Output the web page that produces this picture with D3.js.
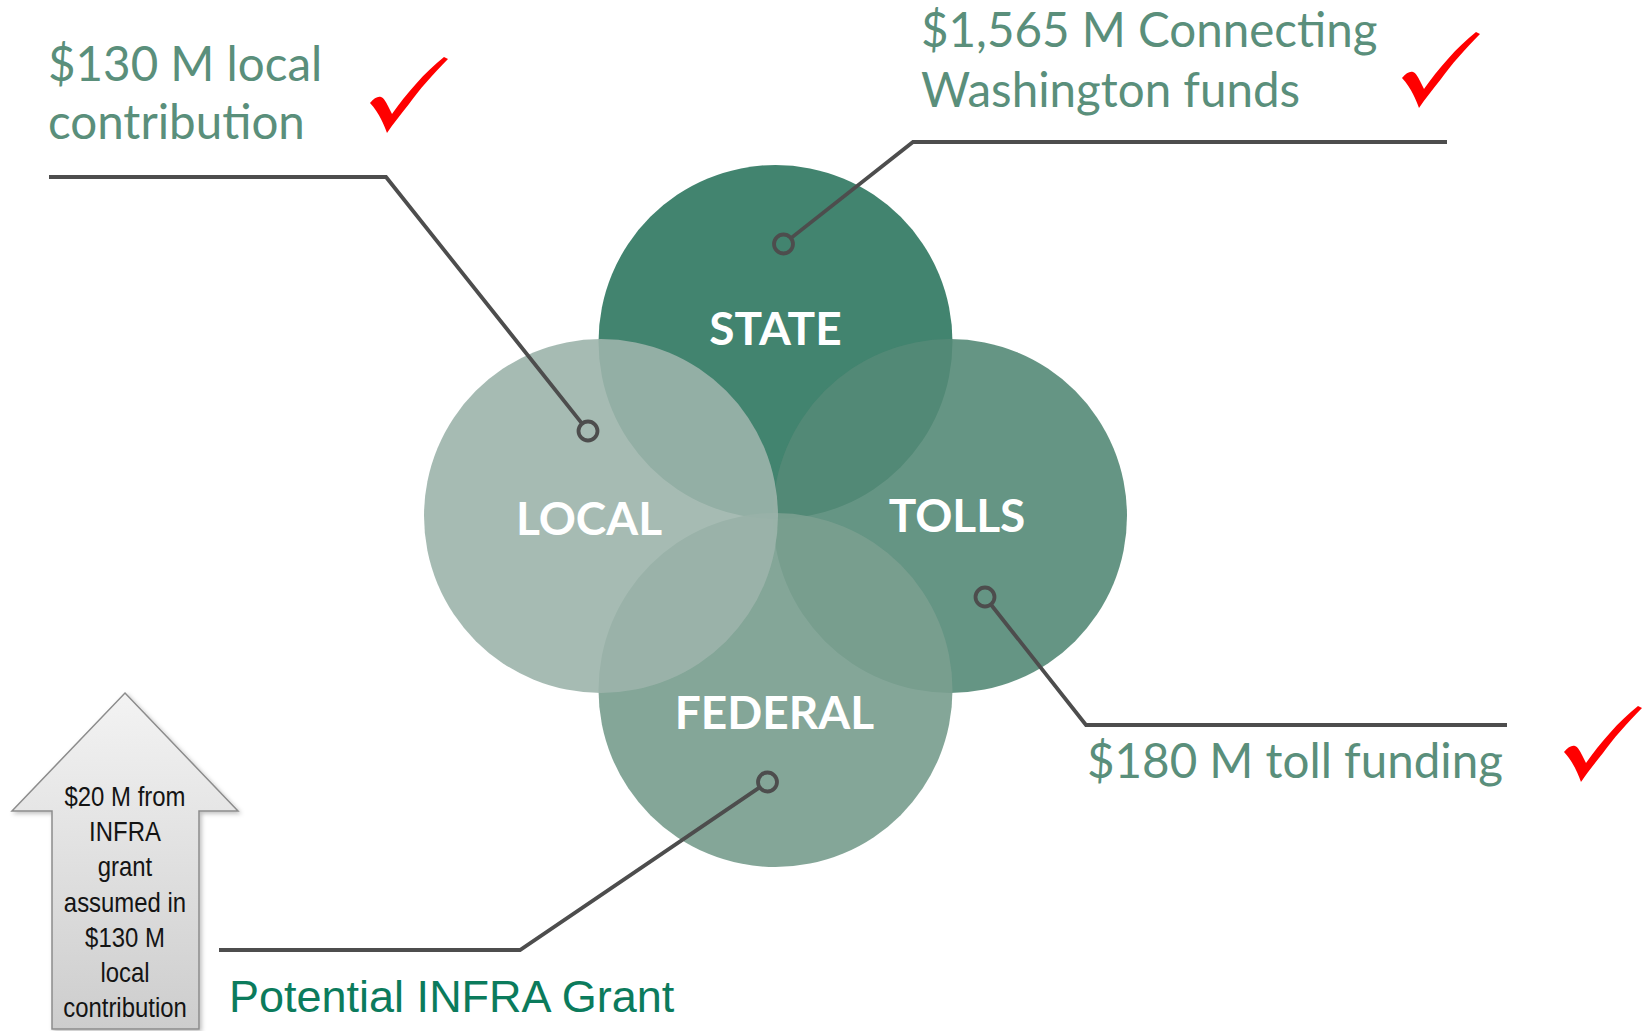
<!DOCTYPE html>
<html>
<head>
<meta charset="utf-8">
<script src="https://cdn.jsdelivr.net/npm/d3@7"></script>
<style>
  html, body { margin: 0; padding: 0; background: #ffffff; }
  svg { display: block; }
</style>
</head>
<body>
<svg id="chart" width="1649" height="1031"></svg>
<script>
// ---- data ----
const categories = ["STATE", "TOLLS", "FEDERAL", "LOCAL"];
const amountLines = [
  ["$1,565 M Connecting", "Washington funds"],
  ["$180 M toll funding"],
  ["Potential INFRA Grant"],
  ["$130 M local", "contribution"]
];
const secured = [true, true, false, true];
const noteLines = ["$20 M from", "INFRA", "grant", "assumed in", "$130 M", "local", "contribution"];

// ---- layout (not data) ----
const W = 1649, H = 1031;
const svg = d3.select("#chart");
const x = d3.scaleLinear().domain([-1, 1]).range([601, 950]);
const y = d3.scaleLinear().domain([-1, 1]).range([690, 342]);
const R = 177;
const layout = {
  STATE:   { u: 0,  v: 1,  fill: "rgb(66,132,111)",  op: 1.0,  lx: 0,   ly: 3,
             mk: [8, -98],  elbow: [913, 142], end: [1447, 142] },
  TOLLS:   { u: 1,  v: 0,  fill: "rgb(84,138,119)",  op: 0.9,  lx: 7,   ly: 16,
             mk: [35, 81],  elbow: [1086, 725], end: [1507, 725] },
  FEDERAL: { u: 0,  v: -1, fill: "rgb(122,158,143)", op: 0.92, lx: -1,  ly: 39,
             mk: [-8, 92],  elbow: [520, 950], end: [219, 950] },
  LOCAL:   { u: -1, v: 0,  fill: "rgb(156,180,171)", op: 0.9,  lx: -12, ly: 19,
             mk: [-13, -85], elbow: [386, 177], end: [49, 177] }
};

const defs = svg.append("defs");
const grad = defs.append("linearGradient").attr("id", "arrowGrad")
  .attr("x1", 0).attr("y1", 0).attr("x2", 0).attr("y2", 1);
grad.append("stop").attr("offset", "0%").attr("stop-color", "#f3f3f3");
grad.append("stop").attr("offset", "100%").attr("stop-color", "#cdcdcd");
const sh = defs.append("filter").attr("id", "shadow").attr("x", "-20%").attr("y", "-20%")
  .attr("width", "140%").attr("height", "140%");
sh.append("feDropShadow").attr("dx", 2).attr("dy", 2).attr("stdDeviation", 2)
  .attr("flood-color", "#000").attr("flood-opacity", 0.25);

// ---- circles ----
const gC = svg.append("g");
gC.selectAll("circle.set").data(categories).join("circle")
  .attr("class", "set")
  .attr("cx", d => x(layout[d].u))
  .attr("cy", d => y(layout[d].v))
  .attr("r", R)
  .attr("fill", d => layout[d].fill)
  .attr("fill-opacity", d => layout[d].op);

// labels
gC.selectAll("text.set").data(categories).join("text")
  .attr("class", "set")
  .attr("x", d => x(layout[d].u) + layout[d].lx)
  .attr("y", d => y(layout[d].v) + layout[d].ly)
  .attr("text-anchor", "middle")
  .attr("font-family", "Lato, 'Open Sans', sans-serif")
  .attr("font-weight", 700)
  .attr("font-size", 46)
  .attr("fill", "#ffffff")
  .text(d => d);

// ---- leader lines ----
const mR = 9.5;
const gL = svg.append("g");
categories.forEach(d => {
  const L = layout[d];
  const mx = x(L.u) + L.mk[0], my = y(L.v) + L.mk[1];
  const ang = Math.atan2(L.elbow[1] - my, L.elbow[0] - mx);
  const sx = mx + Math.cos(ang) * mR, sy = my + Math.sin(ang) * mR;
  gL.append("path")
    .attr("d", d3.line()([[sx, sy], L.elbow, L.end]))
    .attr("fill", "none")
    .attr("stroke", "#4d4d4d")
    .attr("stroke-width", 3.8)
    .attr("stroke-linejoin", "miter");
  gL.append("circle")
    .attr("cx", mx).attr("cy", my).attr("r", mR)
    .attr("fill", "none")
    .attr("stroke", "#4d4d4d")
    .attr("stroke-width", 3.8);
});

// ---- amount texts ----
const textPos = {
  STATE:   { x: 921, y: 47,  dy: 60, size: 47.5 },
  TOLLS:   { x: 1087, y: 778, dy: 60, size: 47.5 },
  LOCAL:   { x: 48, y: 81,  dy: 58, size: 47.5 },
  FEDERAL: { x: 229, y: 1012, dy: 60, size: 45 }
};
categories.forEach((d, i) => {
  const P = textPos[d];
  const t = svg.append("text")
    .attr("x", P.x).attr("y", P.y)
    .attr("font-family", d === "FEDERAL" ? "'Liberation Sans', Arial, sans-serif" : "Lato, 'Open Sans', sans-serif")
    .attr("font-size", P.size)
    .attr("fill", d === "FEDERAL" ? "#0b7b5c" : "#5a8f7b");
  amountLines[i].forEach((line, j) => {
    t.append("tspan").attr("x", P.x).attr("y", P.y + j * P.dy).text(line);
  });
});

// ---- check marks ----
const checkPath = "M1,46 C5,41 9,39 12,40 C15,41 17,45 19,49 L23,57 C37,37 56,15 75,0 L79,2 C64,17 50,33 40,47 C32,57 24,67 18,76 C15,68 11,57 1,46 Z";
const checkPos = { STATE: [1401, 32], TOLLS: [1563, 706], LOCAL: [369, 57] };
categories.forEach((d, i) => {
  if (!secured[i]) return;
  svg.append("path")
    .attr("d", checkPath)
    .attr("transform", `translate(${checkPos[d][0]},${checkPos[d][1]})`)
    .attr("fill", "#ff0000");
});

// ---- note arrow ----
const arrow = d3.path();
arrow.moveTo(125, 693);
arrow.lineTo(238, 811);
arrow.lineTo(199, 811);
arrow.lineTo(199, 1029);
arrow.lineTo(52, 1029);
arrow.lineTo(52, 811);
arrow.lineTo(12, 811);
arrow.closePath();
svg.append("path")
  .attr("d", arrow.toString())
  .attr("fill", "url(#arrowGrad)")
  .attr("stroke", "#8c8c8c")
  .attr("stroke-width", 1.5)
  .attr("filter", "url(#shadow)");

const note = svg.append("text")
  .attr("transform", "translate(125,0) scale(0.84,1)")
  .attr("text-anchor", "middle")
  .attr("font-family", "'Liberation Sans', Arial, sans-serif")
  .attr("font-size", 28.5)
  .attr("fill", "#141414");
noteLines.forEach((line, j) => {
  note.append("tspan").attr("x", 0).attr("y", 806 + j * 35.2).text(line);
});
</script>
</body>
</html>
